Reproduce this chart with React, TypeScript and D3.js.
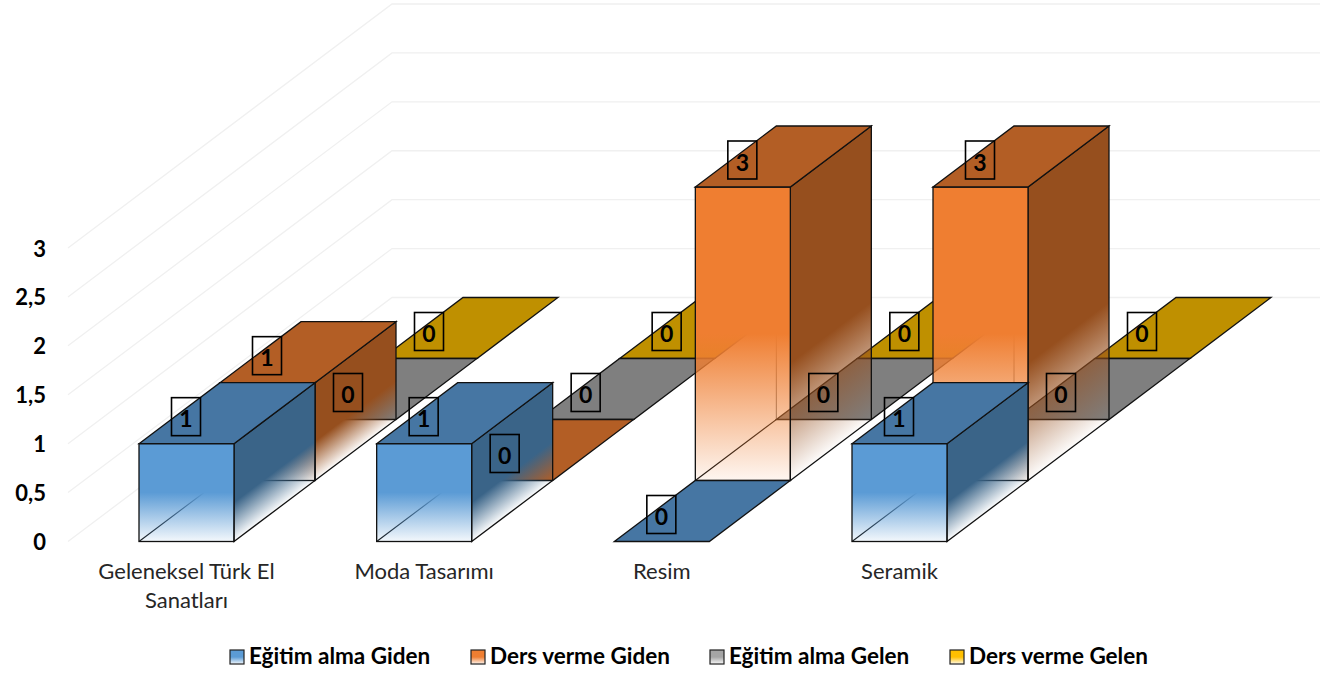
import React from 'react';
import * as d3 from 'd3';

const categories = ['Geleneksel Türk El Sanatları', 'Moda Tasarımı', 'Resim', 'Seramik'];
const categoryLines = [['Geleneksel Türk El', 'Sanatları'], ['Moda Tasarımı'], ['Resim'], ['Seramik']];
const seriesNames = ['Eğitim alma Giden', 'Ders verme Giden', 'Eğitim alma Gelen', 'Ders verme Gelen'];
const egitimAlmaGiden = [1, 1, 0, 1];
const dersVermeGiden = [1, 0, 3, 3];
const egitimAlmaGelen = [0, 0, 0, 0];
const dersVermeGelen = [0, 0, 0, 0];
const seriesValues = [egitimAlmaGiden, dersVermeGiden, egitimAlmaGelen, dersVermeGelen];
const yTicks = [0, 0.5, 1, 1.5, 2, 2.5, 3];

const frontColors = ['#5b9bd5', '#ef7e31', '#a5a5a5', '#ffc000'];
const topColors = ['#4676a3', '#b35e25', '#7f7f7f', '#bf9000'];
const sideColors = ['#3a6488', '#964f1e', '#6b6b6b', '#a07a00'];
const legendX = [230, 471, 710, 950];

const W = 1320;
const H = 675;
const barWidth = 95;

const x = d3.scalePoint<string>().domain(categories).range([139, 852]);
const y = d3.scaleLinear().domain([0, 3]).range([541.5, 248]);
// floor perspective: how far a series slot shifts going back
const depthX = d3.scaleLinear().domain([0, 4]).range([0, 324]);
const depthY = d3.scaleLinear().domain([0, 4]).range([0, -244]);
const wallX = 68;

const poly = d3.line();
const fmt = (v: number) => String(v).replace('.', ',');

function Bar({ cat, s, value }: { cat: number; s: number; value: number }) {
  const x0 = (x(categories[cat]) as number) + depthX(s);
  const x1 = x0 + barWidth;
  const bx0 = x0 + depthX(1);
  const bx1 = x1 + depthX(1);
  const yb = y(0) + depthY(s);
  const ybb = yb + depthY(1);
  const h = y(0) - y(value);
  const stroke = '#111';
  const top = poly([[x0, yb - h], [bx0, ybb - h], [bx1, ybb - h], [x1, yb - h]]) + 'Z';
  if (value === 0) {
    return <path d={top} fill={topColors[s]} stroke={stroke} strokeWidth={1.3} />;
  }
  // side fade runs across the slanted edges
  const dx = depthX(1);
  const dy = -depthY(1);
  const len = Math.hypot(dx, dy);
  const nx = dy / len;
  const ny = dx / len;
  const t = (h * dx) / len;
  const gid = `side-${cat}-${s}`;
  return (
    <g>
      <defs>
        <linearGradient id={gid} gradientUnits="userSpaceOnUse" x1={x1} y1={yb - h} x2={x1 + nx * t} y2={yb - h + ny * t}>
          <stop offset="0" stopColor={sideColors[s]} />
          <stop offset="0.6" stopColor={sideColors[s]} />
          <stop offset="1" stopColor={sideColors[s]} stopOpacity={0.02} />
        </linearGradient>
      </defs>
      {/* hidden edges, seen through the faded part */}
      <path d={poly([[x0, yb], [bx0, ybb], [bx1, ybb]]) as string} fill="none" stroke={stroke} strokeWidth={1.1} />
      <path d={poly([[bx0, ybb], [bx0, ybb - h]]) as string} fill="none" stroke={stroke} strokeOpacity={0.6} strokeWidth={1} />
      <path d={poly([[x1, yb], [bx1, ybb], [bx1, ybb - h], [x1, yb - h]]) + 'Z'} fill={`url(#${gid})`} stroke={stroke} strokeWidth={1.3} />
      <rect x={x0} y={yb - h} width={barWidth} height={h} fill={`url(#front-${s})`} stroke={stroke} strokeWidth={1.3} />
      <path d={top} fill={topColors[s]} stroke={stroke} strokeWidth={1.3} />
    </g>
  );
}

function DataLabel({ cat, s, value }: { cat: number; s: number; value: number }) {
  const cx = (x(categories[cat]) as number) + depthX(s) + 47;
  const cy = y(value) + depthY(s) - 27;
  return (
    <g>
      <rect x={cx - 14.5} y={cy - 19} width={29} height={38} fill="none" stroke="#000" strokeWidth={1.6} />
      <text x={cx} y={cy + 10.5} textAnchor="middle" fontSize={23} fontWeight={700} fill="#000">{fmt(value)}</text>
    </g>
  );
}

export default function App() {
  const order = d3.range(seriesNames.length).reverse();
  return (
    <svg width={W} height={H} style={{ position: 'absolute', left: 0, top: 0, fontFamily: 'Lato, sans-serif' }}>
      <defs>
        {seriesNames.map((_, s) => (
          <linearGradient key={s} id={`front-${s}`} x1="0" y1="0" x2="0" y2="1">
            <stop offset="0" stopColor={frontColors[s]} />
            <stop offset="0.5" stopColor={frontColors[s]} />
            <stop offset="1" stopColor={frontColors[s]} stopOpacity={0.07} />
          </linearGradient>
        ))}
      </defs>

      <rect width={W} height={H} fill="#fff" />

      {/* gridlines: side wall + back wall */}
      {yTicks.map((t) => {
        const yf = y(t);
        const yk = yf + depthY(4);
        const xk = wallX + 324;
        return <path key={t} d={poly([[wallX, yf], [xk, yk], [W, yk]]) as string} fill="none" stroke="#f0f0f0" strokeWidth={1.3} />;
      })}

      {yTicks.map((t) => (
        <text key={t} x={46} y={y(t) + 8.5} textAnchor="end" fontSize={22} fontWeight={700} fill="#000">{fmt(t)}</text>
      ))}

      {/* back series first */}
      {order.map((s) => (
        <g key={s}>
          {categories.map((_, c) => <Bar key={c} cat={c} s={s} value={seriesValues[s][c]} />)}
        </g>
      ))}

      {order.map((s) => (
        <g key={s}>
          {categories.map((_, c) => <DataLabel key={c} cat={c} s={s} value={seriesValues[s][c]} />)}
        </g>
      ))}

      {categoryLines.map((lines, c) => (
        <text key={c} textAnchor="middle" fontSize={22} fill="#262626">
          {lines.map((l, i) => (
            <tspan key={i} x={(x(categories[c]) as number) + 47.5} y={578.5 + i * 29}>{l}</tspan>
          ))}
        </text>
      ))}

      {seriesNames.map((name, s) => (
        <g key={s}>
          <rect x={legendX[s]} y={650} width={14} height={14} fill={`url(#front-${s})`} stroke="#222" strokeWidth={1.2} />
          <text x={legendX[s] + 19} y={664} fontSize={22.5} fontWeight={700} fill="#000">{name}</text>
        </g>
      ))}
    </svg>
  );
}
